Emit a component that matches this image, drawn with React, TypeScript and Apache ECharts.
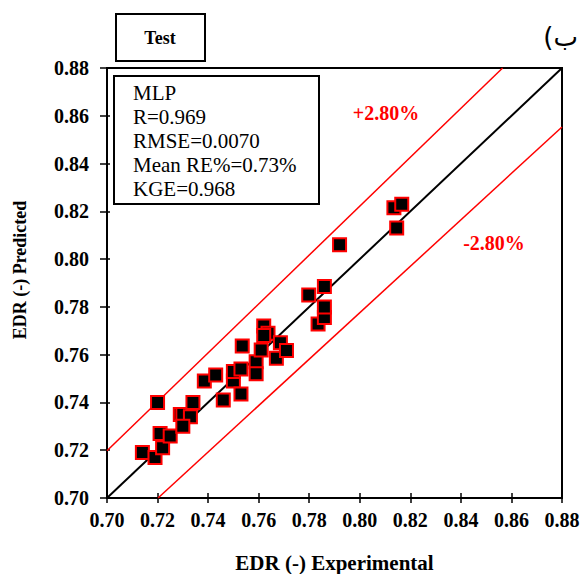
import { useEffect, useRef } from "react";
import * as echarts from "echarts";

// experimental vs predicted EDR (test set, MLP)
const experimental = [
  0.714, 0.719, 0.720, 0.722, 0.721, 0.725, 0.729, 0.730, 0.733, 0.730,
  0.734, 0.7385, 0.743, 0.746, 0.750, 0.750, 0.753, 0.753, 0.7535, 0.759,
  0.759, 0.761, 0.762, 0.7637, 0.762, 0.767, 0.7686, 0.771, 0.7798, 0.7835,
  0.786, 0.786, 0.786, 0.792, 0.8146, 0.8135, 0.8166,
];
const predicted = [
  0.719, 0.717, 0.740, 0.721, 0.727, 0.726, 0.735, 0.735, 0.734, 0.730,
  0.740, 0.749, 0.7515, 0.741, 0.749, 0.753, 0.754, 0.7435, 0.7636, 0.757,
  0.752, 0.762, 0.772, 0.769, 0.768, 0.7585, 0.765, 0.7617, 0.785, 0.7728,
  0.7756, 0.780, 0.7885, 0.806, 0.813, 0.8215, 0.823,
];

// reference lines (end points)
const idealLine = [[0.70, 0.70], [0.88, 0.88]];
const plusLine = [[0.70, 0.7198], [0.8565, 0.88]];
const minusLine = [[0.7202, 0.70], [0.88, 0.8553]];

const statLines = ["MLP", "R=0.969", "RMSE=0.0070", "Mean RE%=0.73%", "KGE=0.968"];

const SERIF = "'Liberation Serif', 'Times New Roman', serif";

export default function App() {
  const chartRef = useRef<HTMLDivElement>(null);

  useEffect(() => {
    if (!chartRef.current) return;
    const chart = echarts.init(chartRef.current, undefined, { renderer: "svg" });

    const axisLabel = {
      color: "#000",
      fontFamily: SERIF,
      fontWeight: "bold" as const,
      fontSize: 20,
      formatter: (v: number) => v.toFixed(2),
    };

    chart.setOption({
      animation: false,
      backgroundColor: "#fff",
      grid: {
        left: 107,
        top: 68,
        width: 455,
        height: 430,
        outerBoundsMode: "none",
        containLabel: false,
        show: true,
        borderColor: "#000",
        borderWidth: 2,
        backgroundColor: "transparent",
      },
      xAxis: [
        {
          type: "value",
          min: 0.7,
          max: 0.88,
          interval: 0.02,
          axisLine: { show: true, onZero: false, lineStyle: { color: "#000", width: 2 } },
          axisTick: { show: true, length: 5, lineStyle: { color: "#000", width: 1.5 } },
          axisLabel: { ...axisLabel, margin: 12 },
          splitLine: { show: false },
          name: "EDR (-) Experimental",
          nameLocation: "middle",
          nameGap: 54,
          nameTextStyle: { color: "#000", fontFamily: SERIF, fontWeight: "bold", fontSize: 21 },
        },
        {
          type: "value",
          min: 0.7,
          max: 0.88,
          interval: 0.02,
          position: "bottom",
          axisLine: { show: false },
          axisTick: { show: true, inside: true, length: 5, lineStyle: { color: "#000", width: 1.5 } },
          axisLabel: { show: false },
          splitLine: { show: false },
        },
      ],
      yAxis: [
        {
          type: "value",
          min: 0.7,
          max: 0.88,
          interval: 0.02,
          axisLine: { show: true, onZero: false, lineStyle: { color: "#000", width: 2 } },
          axisTick: { show: true, length: 7, lineStyle: { color: "#000", width: 1.5 } },
          axisLabel: { ...axisLabel, margin: 18 },
          splitLine: { show: false },
        },
        {
          type: "value",
          min: 0.7,
          max: 0.88,
          interval: 0.02,
          position: "left",
          axisLine: { show: false },
          axisTick: { show: true, inside: true, length: 3, lineStyle: { color: "#000", width: 1.5 } },
          axisLabel: { show: false },
          splitLine: { show: false },
        },
      ],
      series: [
        {
          type: "line",
          data: idealLine,
          symbol: "none",
          lineStyle: { color: "#000", width: 2 },
          z: 2,
        },
        {
          type: "line",
          data: plusLine,
          symbol: "none",
          lineStyle: { color: "#ff0000", width: 1.5 },
          z: 2,
        },
        {
          type: "line",
          data: minusLine,
          symbol: "none",
          lineStyle: { color: "#ff0000", width: 1.5 },
          z: 2,
        },
        {
          type: "scatter",
          data: experimental.map((x, i) => [x, predicted[i]]),
          symbol: "rect",
          symbolSize: 13,
          itemStyle: { color: "#000", borderColor: "#ff0000", borderWidth: 2, opacity: 1 },
          z: 5,
        },
      ],
      graphic: [
        {
          type: "rect",
          shape: { x: 116, y: 14, width: 89, height: 47 },
          style: { fill: "#fff", stroke: "#000", lineWidth: 2 },
        },
        {
          type: "text",
          x: 160,
          y: 38,
          style: {
            text: "Test",
            fill: "#000",
            font: `bold 18px ${SERIF}`,
            textAlign: "center",
            textVerticalAlign: "middle",
          },
        },
        {
          type: "text",
          x: 20,
          y: 270,
          rotation: Math.PI / 2,
          style: {
            text: "EDR (-) Predicted",
            fill: "#000",
            font: `bold 18px ${SERIF}`,
            textAlign: "center",
            textVerticalAlign: "middle",
          },
        },
        {
          type: "rect",
          shape: { x: 114, y: 76, width: 205, height: 128 },
          style: { fill: "#fff", stroke: "#000", lineWidth: 2 },
          z: 10,
        },
        ...statLines.map((t, i) => ({
          type: "text",
          x: 133,
          y: 93 + i * 24,
          z: 11,
          style: {
            text: t,
            fill: "#000",
            font: `21px ${SERIF}`,
            textAlign: "left",
            textVerticalAlign: "middle",
          },
        })),
        {
          type: "text",
          x: 386,
          y: 113,
          z: 11,
          style: {
            text: "+2.80%",
            fill: "#ff0000",
            font: `bold 20px ${SERIF}`,
            textAlign: "center",
            textVerticalAlign: "middle",
          },
        },
        {
          type: "text",
          x: 494,
          y: 243,
          z: 11,
          style: {
            text: "-2.80%",
            fill: "#ff0000",
            font: `bold 20px ${SERIF}`,
            textAlign: "center",
            textVerticalAlign: "middle",
          },
        },
        {
          type: "text",
          x: 578,
          y: 37,
          style: {
            text: "(ب",
            fill: "#000",
            font: "26px 'DejaVu Sans', 'Noto Sans', sans-serif",
            textAlign: "right",
            textVerticalAlign: "middle",
          },
        },
      ],
    });

    return () => chart.dispose();
  }, []);

  return (
    <div
      ref={chartRef}
      style={{ position: "fixed", left: 0, top: 0, width: 580, height: 574, background: "#fff" }}
    />
  );
}
